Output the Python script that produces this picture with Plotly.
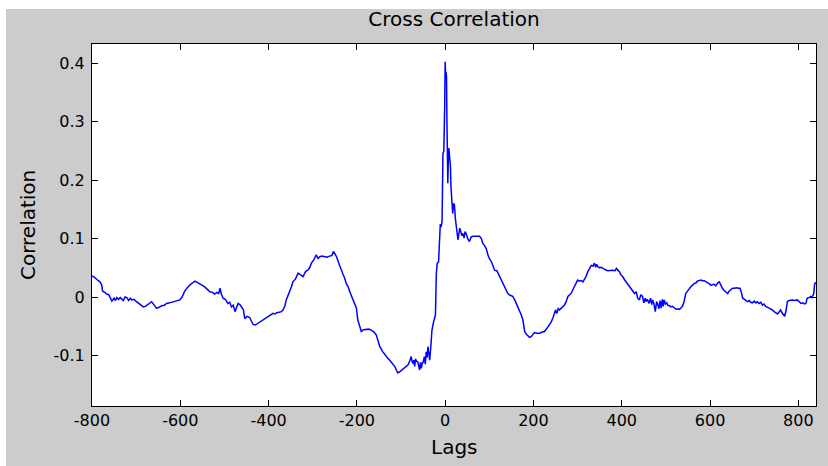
import plotly.graph_objects as go

# Cross-correlation estimate, sampled along the lag axis
lags = [
    -800, -795, -789, -782, -778, -776, -771, -767, -762, -758,
    -755, -750, -747, -744, -740, -736, -733, -729, -725, -721,
    -717, -713, -710, -705, -699, -693, -688, -684, -679, -673,
    -669, -665, -660, -654, -649, -642, -636, -631, -624, -616,
    -608, -601, -596, -590, -584, -578, -572, -567, -562, -556,
    -550, -544, -538, -533, -527, -522, -517, -513, -510, -507,
    -503, -498, -492, -488, -484, -480, -476, -472, -469, -465,
    -461, -457, -454, -449, -443, -439, -435, -430, -424, -418,
    -412, -407, -401, -396, -390, -385, -382, -376, -371, -367,
    -363, -360, -356, -352, -348, -345, -339, -333, -328, -322,
    -316, -311, -307, -303, -298, -292, -288, -284, -279, -273,
    -268, -262, -257, -253, -249, -246, -242, -239, -235, -231,
    -228, -224, -220, -216, -212, -209, -205, -201, -198, -194,
    -190, -185, -179, -173, -167, -161, -156, -152, -148, -142,
    -137, -131, -126, -120, -114, -110, -107, -101, -96, -90,
    -84, -80, -77, -75, -73, -71, -69, -67, -65, -62,
    -60, -58, -56, -54, -52, -50, -47, -45, -43, -41,
    -39, -37, -35, -32, -30, -27, -24, -22, -20,
    -18, -15, -13, -11, -9, -7, -5, -3, -1, 0,
    1, 2, 3, 4, 5, 6, 7, 8, 9, 10,
    12, 13, 14, 16, 17, 19, 21, 23, 25, 27,
    29, 31, 33, 36, 38, 40, 43, 45, 48, 51,
    55, 59, 63, 70, 78, 82, 85, 89, 93, 97,
    100, 105, 108, 112, 117, 120, 123, 127, 131, 135,
    138, 142, 147, 153, 157, 161, 165, 168, 172, 176,
    180, 184, 187, 191, 195, 198, 202, 207, 214, 220,
    225, 230, 236, 240, 244, 247, 250, 253, 256, 259,
    264, 270, 274, 278, 282, 285, 289, 293, 297, 300,
    304, 308, 312, 316, 319, 323, 327, 331, 335, 338,
    341, 343, 346, 350, 354, 357, 362, 368, 373, 379,
    385, 388, 391, 395, 398, 402, 406, 410, 414, 418,
    421, 425, 429, 433, 436, 440, 443, 447, 450, 453,
    455, 458, 462, 465, 468, 470, 473, 476, 479, 481,
    484, 487, 489, 492, 494, 496, 499, 502, 504, 508,
    511, 515, 519, 523, 527, 531, 534, 538, 541, 545,
    549, 553, 557, 560, 564, 568, 571, 575, 579, 583,
    587, 591, 595, 598, 602, 606, 609, 613, 617, 621,
    624, 628, 632, 636, 640, 643, 647, 651, 655, 660,
    664, 668, 671, 674, 678, 682, 685, 689, 692, 696,
    700, 704, 707, 711, 715, 719, 722, 726, 730, 734,
    738, 741, 745, 749, 753, 756, 760, 763, 766, 769,
    772, 775, 779, 783, 787, 791, 795, 798, 802, 806,
    810, 814, 817, 820, 824, 828, 831, 835, 837, 840,
]

corr = [
    0.036, 0.034, 0.030, 0.026, 0.021, 0.010, 0.008, 0.005, 0.004, -0.004,
    -0.007, -0.002, -0.006, -0.001, -0.004, -0.001, -0.003, -0.006, 0.000, -0.001,
    -0.006, -0.002, -0.005, -0.004, -0.008, -0.011, -0.014, -0.017, -0.016, -0.012,
    -0.010, -0.008, -0.013, -0.019, -0.018, -0.015, -0.014, -0.011, -0.010, -0.008,
    -0.007, -0.005, 0.000, 0.010, 0.016, 0.021, 0.024, 0.027, 0.025, 0.023,
    0.020, 0.017, 0.013, 0.009, 0.008, 0.005, 0.008, 0.006, 0.015, 0.005,
    -0.002, -0.004, -0.011, -0.009, -0.017, -0.014, -0.025, -0.016, -0.011, -0.013,
    -0.017, -0.022, -0.037, -0.033, -0.035, -0.041, -0.047, -0.048, -0.045, -0.043,
    -0.039, -0.038, -0.035, -0.031, -0.028, -0.029, -0.027, -0.026, -0.025, -0.022,
    -0.015, -0.005, 0.002, 0.009, 0.018, 0.026, 0.031, 0.041, 0.038, 0.035,
    0.044, 0.046, 0.050, 0.058, 0.063, 0.072, 0.066, 0.069, 0.070, 0.069,
    0.068, 0.070, 0.071, 0.078, 0.072, 0.069, 0.060, 0.052, 0.046, 0.038,
    0.033, 0.023, 0.018, 0.009, 0.002, -0.005, -0.010, -0.019, -0.039, -0.050,
    -0.059, -0.056, -0.055, -0.055, -0.057, -0.060, -0.065, -0.075, -0.085, -0.093,
    -0.099, -0.104, -0.108, -0.114, -0.119, -0.126, -0.130, -0.127, -0.124, -0.120,
    -0.116, -0.109, -0.102, -0.110, -0.114, -0.108, -0.119, -0.106, -0.110, -0.111,
    -0.118, -0.125, -0.112, -0.122, -0.113, -0.112, -0.102, -0.115, -0.094, -0.104,
    -0.085, -0.100, -0.108, -0.080, -0.057, -0.045, -0.036, -0.030, 0.040,
    0.058, 0.060, 0.100, 0.125, 0.120, 0.130, 0.246, 0.250, 0.330, 0.403,
    0.380, 0.385, 0.377, 0.300, 0.217, 0.195, 0.230, 0.255, 0.250, 0.240,
    0.223, 0.190, 0.178, 0.150, 0.143, 0.160, 0.158, 0.135, 0.126, 0.110,
    0.098, 0.112, 0.118, 0.110, 0.105, 0.109, 0.101, 0.112, 0.108, 0.100,
    0.095, 0.103, 0.104, 0.104, 0.104, 0.100, 0.092, 0.088, 0.083, 0.072,
    0.066, 0.060, 0.053, 0.046, 0.045, 0.040, 0.038, 0.030, 0.023, 0.018,
    0.012, 0.006, 0.003, 0.001, -0.004, -0.011, -0.016, -0.022, -0.030, -0.039,
    -0.059, -0.064, -0.067, -0.069, -0.068, -0.064, -0.061, -0.062, -0.062, -0.060,
    -0.059, -0.054, -0.048, -0.043, -0.036, -0.030, -0.022, -0.028, -0.020, -0.022,
    -0.018, -0.014, -0.008, 0.001, 0.004, 0.006, 0.012, 0.018, 0.024, 0.029,
    0.027, 0.028, 0.026, 0.031, 0.035, 0.043, 0.049, 0.054, 0.053, 0.058,
    0.051, 0.056, 0.052, 0.050, 0.051, 0.049, 0.047, 0.045, 0.046, 0.046,
    0.045, 0.049, 0.046, 0.043, 0.038, 0.035, 0.030, 0.026, 0.022, 0.018,
    0.015, 0.010, 0.006, 0.009, -0.002, -0.005, 0.004, 0.001, -0.010, -0.002,
    -0.008, -0.004, -0.011, -0.002, -0.013, -0.005, -0.012, -0.025, -0.008, -0.011,
    -0.020, -0.006, -0.019, -0.004, -0.016, -0.005, -0.012, -0.010, -0.014, -0.015,
    -0.017, -0.016, -0.018, -0.021, -0.020, -0.021, -0.019, -0.015, -0.008, 0.006,
    0.010, 0.015, 0.018, 0.020, 0.023, 0.024, 0.027, 0.028, 0.029, 0.028,
    0.028, 0.026, 0.025, 0.023, 0.020, 0.022, 0.022, 0.019, 0.024, 0.026,
    0.020, 0.015, 0.011, 0.009, 0.006, 0.010, 0.012, 0.015, 0.015, 0.016,
    0.015, 0.015, 0.008, -0.002, -0.004, -0.006, -0.008, -0.006, -0.009, -0.010,
    -0.007, -0.010, -0.008, -0.011, -0.009, -0.014, -0.012, -0.016, -0.017, -0.019,
    -0.021, -0.022, -0.025, -0.027, -0.029, -0.026, -0.022, -0.027, -0.031, -0.033,
    -0.024, -0.008, -0.006, -0.005, -0.005, -0.006, -0.005, -0.005, -0.008, -0.011,
    -0.010, -0.012, -0.011, -0.002, -0.001, 0.001, -0.001, 0.006, 0.023, 0.025,
]
assert len(lags) == len(corr)

x_ticks = [-800, -600, -400, -200, 0, 200, 400, 600, 800]
x_tick_text = ["-800", "-600", "-400", "-200", "0", "200", "400", "600", "800"]
y_ticks = [-0.1, 0, 0.1, 0.2, 0.3, 0.4]
y_tick_text = ["-0.1", "0", "0.1", "0.2", "0.3", "0.4"]

W, H = 828, 466
L, R, T, B = 92, 12, 44, 60
plot_w, plot_h = W - L - R, H - T - B

FONT = "DejaVu Sans"

fig = go.Figure()
fig.add_trace(go.Scatter(
    x=lags, y=corr, mode="lines",
    line=dict(color="#0000ff", width=1.5),
    hoverinfo="skip", showlegend=False,
))

axis_common = dict(
    showgrid=False, zeroline=False,
    showline=True, linecolor="black", linewidth=1, mirror="ticks",
    ticks="inside", ticklen=6, tickcolor="black", tickwidth=1,
    tickfont=dict(family=FONT, size=16, color="black"),
)

fig.update_xaxes(range=[-800, 840], tickvals=x_ticks, ticktext=x_tick_text,
                 ticklabelstandoff=0, **axis_common)
fig.update_yaxes(range=[-0.1866, 0.4332], tickvals=y_ticks, ticktext=y_tick_text,
                 ticklabelstandoff=3, **axis_common)

# white strips along the top and left border of the figure window
fig.add_shape(type="rect", xref="paper", yref="paper",
              x0=-L / plot_w - 0.01, x1=(W - L) / plot_w + 0.01,
              y0=(H - B - 9) / plot_h, y1=(H - B) / plot_h + 0.01,
              fillcolor="white", line_width=0, layer="below")
fig.add_shape(type="rect", xref="paper", yref="paper",
              x0=-L / plot_w - 0.01, x1=(6 - L) / plot_w,
              y0=-B / plot_h - 0.01, y1=(H - B) / plot_h + 0.01,
              fillcolor="white", line_width=0, layer="below")

fig.add_annotation(text="Lags", xref="paper", yref="paper",
                   x=0.5, y=(H - B - 447) / plot_h, xanchor="center", yanchor="middle",
                   showarrow=False, font=dict(family=FONT, size=20, color="black"))
fig.add_annotation(text="Correlation", xref="paper", yref="paper",
                   x=(28 - L) / plot_w, y=(H - B - 225) / plot_h, textangle=-90,
                   xanchor="center", yanchor="middle",
                   showarrow=False, font=dict(family=FONT, size=20, color="black"))

fig.update_layout(
    width=W, height=H,
    margin=dict(l=L, r=R, t=T, b=B),
    paper_bgcolor="#cccccc", plot_bgcolor="white",
    title=dict(text="Cross Correlation", x=0.5, xref="paper", xanchor="center",
               y=1 - 19 / H, yref="container", yanchor="middle",
               font=dict(family=FONT, size=20, color="black")),
)

fig.write_html("out.html")
